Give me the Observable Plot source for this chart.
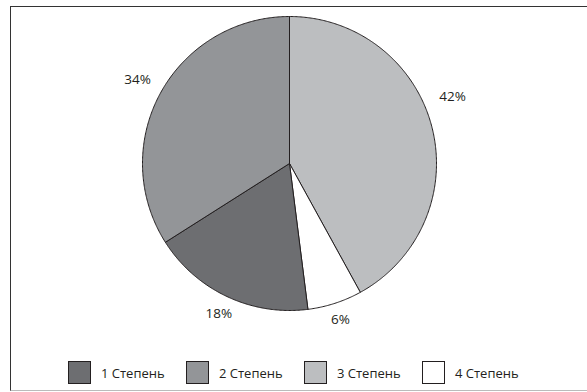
<!DOCTYPE html>
<html>
<head>
<meta charset="utf-8">
<script src="https://cdn.jsdelivr.net/npm/d3@7"></script>
<script src="https://cdn.jsdelivr.net/npm/@observablehq/plot@0.6"></script>
<style>
  body { margin: 0; background: #fff; font-family: "Open Sans", sans-serif; }
  #page { position: relative; width: 587px; height: 392px; overflow: hidden; background: #fff; }
  #frame { position: absolute; left: 10px; top: 6px; width: 620px; height: 383px;
           border-left: 1.5px solid #333; border-top: 1.5px solid #333; border-bottom: 1px solid #bbb; }
  #chart { position: absolute; left: 0; top: 0; }
  #legend { position: absolute; left: 68px; top: 361px; display: flex; }
  .item { width: 118px; display: flex; align-items: center; height: 23px; font-size: 13px; color: #231f20; }
  .sw { width: 21px; height: 21px; border: 1px solid #231f20; margin-right: 10px; flex: none; }
</style>
</head>
<body>
<div id="page">
  <div id="frame"></div>
  <div id="chart"></div>
  <div id="legend"></div>
</div>
<script>
// Degree groups and their shares (%)
const categories = ["1 Степень", "2 Степень", "3 Степень", "4 Степень"];
const shares = [18, 34, 42, 6];
const colors = ["#6d6e71", "#939598", "#bcbec0", "#ffffff"];
// Order of the slices, clockwise from 12 o'clock
const sliceOrder = ["3 Степень", "4 Степень", "1 Степень", "2 Степень"];

const rows = categories.map((key, i) => ({key, value: shares[i]}));
const ordered = sliceOrder.map(k => rows.find(r => r.key === k));
const arcs = d3.pie().sort(null).value(d => d.value)(ordered);

// Each slice as a closed polygon: centre -> arc -> centre
const step = Math.PI / 360;
const slicePoints = arcs.flatMap(a => {
  const pts = [{key: a.data.key, x: 0, y: 0}];
  const n = Math.max(2, Math.ceil((a.endAngle - a.startAngle) / step));
  for (let i = 0; i <= n; i++) {
    const t = a.startAngle + (a.endAngle - a.startAngle) * i / n;
    pts.push({key: a.data.key, x: Math.sin(t), y: Math.cos(t)});
  }
  pts.push({key: a.data.key, x: 0, y: 0});
  return pts;
});

// Percentage labels just outside the rim
const labelShift = {"3 Степень": -8 * Math.PI / 180};
const labelRadius = {"3 Степень": 1.2, "4 Степень": 1.12, "1 Степень": 1.13, "2 Степень": 1.18};
const labels = arcs.map(a => {
  const mid = (a.startAngle + a.endAngle) / 2 + (labelShift[a.data.key] || 0);
  const r = labelRadius[a.data.key];
  return {x: r * Math.sin(mid), y: r * Math.cos(mid), text: `${a.data.value}%`};
});

const chart = Plot.plot({
  width: 587,
  height: 340,
  marginLeft: 142,
  marginRight: 151,
  marginTop: 16,
  marginBottom: 30,
  x: {domain: [-1, 1], axis: null},
  y: {domain: [-1, 1], axis: null},
  color: {domain: categories, range: colors},
  style: {background: "transparent", fontFamily: "Open Sans, sans-serif"},
  marks: [
    Plot.line(slicePoints, {x: "x", y: "y", z: "key", fill: "key", stroke: "#231f20", strokeWidth: 1, strokeLinejoin: "miter"}),
    Plot.text(labels, {x: "x", y: "y", text: "text", fontSize: 13.5, fill: "#231f20"})
  ]
});
document.getElementById("chart").append(chart);

// Legend below the pie
const legend = document.getElementById("legend");
categories.forEach((c, i) => {
  const item = document.createElement("div");
  item.className = "item";
  const sw = document.createElement("div");
  sw.className = "sw";
  sw.style.background = colors[i];
  const label = document.createElement("span");
  label.textContent = c;
  item.append(sw, label);
  legend.append(item);
});
</script>
</body>
</html>
